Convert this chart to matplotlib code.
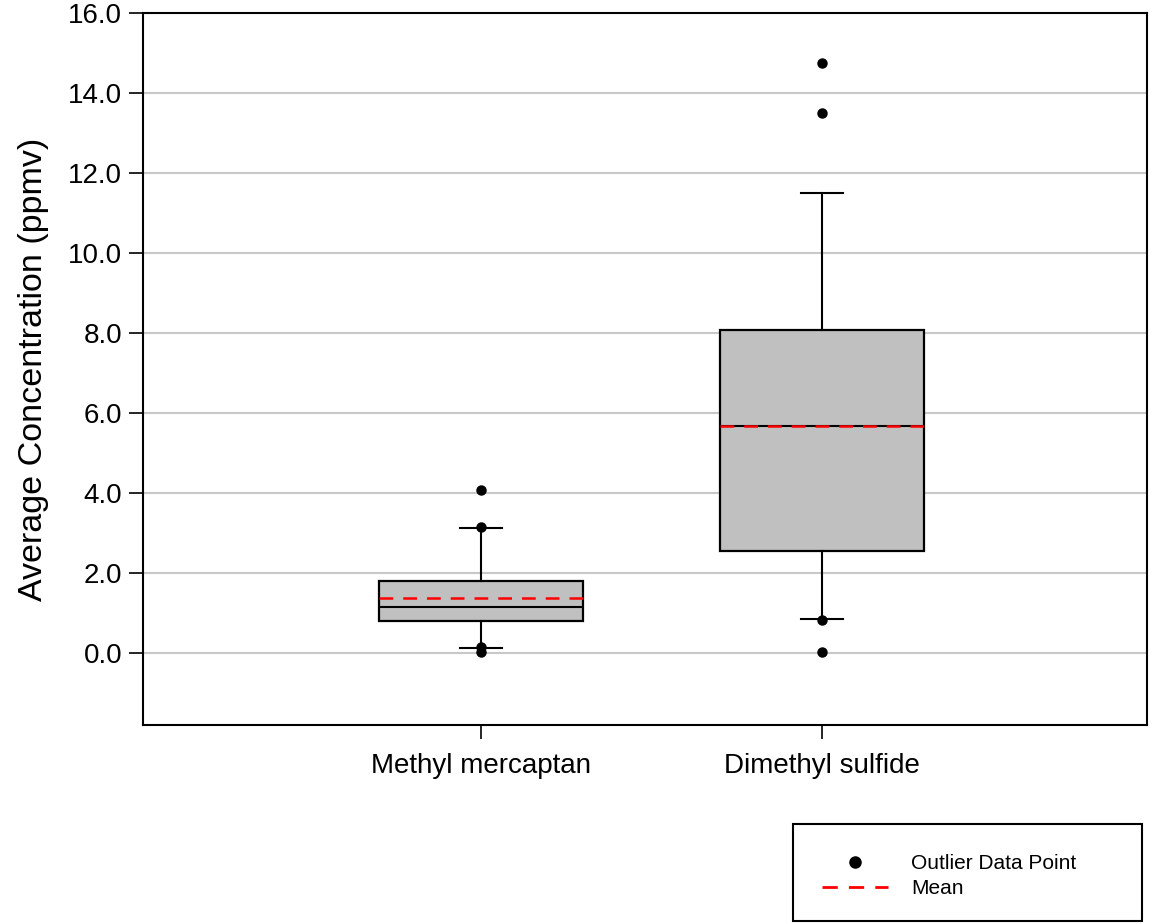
import matplotlib.pyplot as plt
from matplotlib.lines import Line2D
from matplotlib.patches import Rectangle

plt.rcParams['font.family'] = ['Liberation Sans', 'DejaVu Sans']

# box statistics (ppmv)
compounds = ["Methyl mercaptan", "Dimethyl sulfide"]
q1 = [0.80, 2.55]
q3 = [1.80, 8.08]
medians = [1.15, 5.67]
means = [1.37, 5.67]
whisker_lo = [0.13, 0.84]
whisker_hi = [3.13, 11.50]
outliers = [[4.08, 3.15, 0.15, 0.03], [14.75, 13.50, 0.82, 0.03]]

stats = []
for i, name in enumerate(compounds):
    stats.append(dict(label=name, q1=q1[i], q3=q3[i], med=medians[i], mean=means[i],
                      whislo=whisker_lo[i], whishi=whisker_hi[i], fliers=outliers[i]))

mean_dash = (0, (5.5, 4))

fig = plt.figure(figsize=(11.62, 9.23), dpi=100)
ax = fig.add_axes([143/1162, 1 - 725/923, (1147 - 143)/1162, (725 - 13)/923])

ax.bxp(stats, positions=[1, 2], widths=0.6, patch_artist=True, showmeans=True, meanline=True,
       boxprops=dict(facecolor='#c0c0c0', edgecolor='black', linewidth=1.6),
       medianprops=dict(color='black', linewidth=1.5),
       meanprops=dict(color='red', linestyle=mean_dash, linewidth=1.8),
       whiskerprops=dict(color='black', linewidth=1.5),
       capprops=dict(color='black', linewidth=1.5),
       capwidths=0.125,
       flierprops=dict(marker='o', markerfacecolor='black', markeredgecolor='black', markersize=6.5))

ax.set_xlim(0.009, 2.953)
ax.set_ylim(-1.8, 16)
ax.set_yticks([0, 2, 4, 6, 8, 10, 12, 14, 16])
ax.set_yticklabels([f"{v:.1f}" for v in [0, 2, 4, 6, 8, 10, 12, 14, 16]])
ax.yaxis.grid(True, color='#c8c8c8', linewidth=1.5)
ax.set_axisbelow(True)
ax.tick_params(axis='both', labelsize=20, length=10, width=1.2, direction='out', pad=5)
ax.tick_params(axis='x', pad=10)
for s in ax.spines.values():
    s.set_linewidth(1.5)
ax.set_ylabel("Average Concentration (ppmv)", fontsize=24.5, labelpad=14)

# legend box below the plot
fig.patches.append(Rectangle((793/1162, 1 - 921/923), (1142 - 793)/1162, 97/923,
                             transform=fig.transFigure, facecolor='white',
                             edgecolor='black', linewidth=1.5))
handles = [Line2D([], [], marker='o', color='black', linestyle='none', markersize=8),
           Line2D([], [], color='red', linestyle=mean_dash, linewidth=2)]
fig.legend(handles, ["Outlier Data Point", "Mean"], loc='center left',
           bbox_to_anchor=(803/1162, 1 - 876/923), frameon=False, fontsize=15,
           handlelength=3.2, handletextpad=1.1, labelspacing=0.3)

fig.savefig("out.png", dpi=100)
